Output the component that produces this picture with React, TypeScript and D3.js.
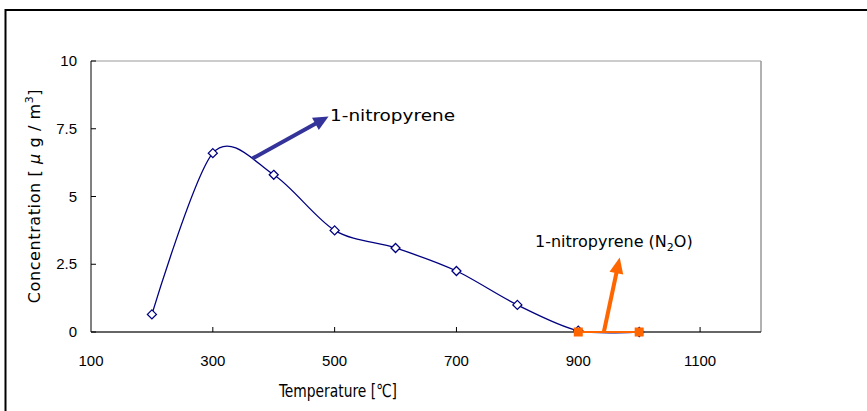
import React from "react";
import * as d3 from "d3";

// Temperature (°C) and 1-nitropyrene concentration (µg/m³)
const temps = [200, 300, 400, 500, 600, 700, 800, 900, 1000];
const nitropyrene = [0.65, 6.6, 5.8, 3.75, 3.1, 2.25, 1.0, 0.05, 0];
// 1-nitropyrene with N2O atmosphere
const tempsN2O = [900, 1000];
const nitropyreneN2O = [0, 0];

const xTicks = [100, 300, 500, 700, 900, 1100];
const xTickMarks = [300, 500, 700, 900, 1100];
const yTicks = [0, 2.5, 5, 7.5, 10];

const W = 867;
const H = 411;
const plot = { left: 91, right: 761, top: 61, bottom: 332 };

export default function App() {
  const x = d3.scaleLinear().domain([100, 1200]).range([plot.left, plot.right]);
  const y = d3.scaleLinear().domain([0, 10]).range([plot.bottom, plot.top]);

  const pts: [number, number][] = temps.map((t, i) => [x(t), y(nitropyrene[i])]);
  const ptsN2O: [number, number][] = tempsN2O.map((t, i) => [x(t), y(nitropyreneN2O[i])]);

  const smooth = d3.line().curve(d3.curveCardinal.tension(0.1))(pts) || "";
  const straight = d3.line()(ptsN2O) || "";

  const gothic = "'DejaVu Sans', sans-serif";
  const narrow = "'Liberation Sans Narrow', 'DejaVu Sans Condensed', sans-serif";
  const sans = "'Liberation Sans', Arial, sans-serif";

  // arrows pointing to labels (in data space)
  const blueArrow = { from: [365, 6.4], to: [490, 7.95] };
  const orangeArrow = { from: [942, 0], to: [968, 2.75] };

  const arrowHead = (x1: number, y1: number, x2: number, y2: number, len: number, half: number) => {
    const dx = x2 - x1;
    const dy = y2 - y1;
    const L = Math.hypot(dx, dy);
    const ux = dx / L;
    const uy = dy / L;
    const bx = x2 - ux * len;
    const by = y2 - uy * len;
    return `M${x2},${y2}L${bx - uy * half},${by + ux * half}L${bx + uy * half},${by - ux * half}Z`;
  };

  const ba = [x(blueArrow.from[0]), y(blueArrow.from[1]), x(blueArrow.to[0]), y(blueArrow.to[1])];
  const oa = [x(orangeArrow.from[0]), y(orangeArrow.from[1]), x(orangeArrow.to[0]), y(orangeArrow.to[1])];
  const shorten = (a: number[], k: number) => {
    const dx = a[2] - a[0];
    const dy = a[3] - a[1];
    const L = Math.hypot(dx, dy);
    return [a[2] - (dx / L) * k, a[3] - (dy / L) * k];
  };
  const bEnd = shorten(ba, 12);
  const oEnd = shorten(oa, 12);

  return (
    <svg
      width={W}
      height={H}
      style={{ position: "absolute", left: 0, top: 0, background: "#fff" }}
    >
      {/* outer frame */}
      <line x1={5} y1={10} x2={W} y2={10} stroke="#000" strokeWidth={2} />
      <line x1={5.5} y1={9} x2={5.5} y2={H} stroke="#000" strokeWidth={2} />

      {/* plot area border */}
      <line x1={plot.left} y1={plot.top} x2={plot.right} y2={plot.top} stroke="#999" strokeWidth={1} />
      <line x1={plot.right} y1={plot.top} x2={plot.right} y2={plot.bottom} stroke="#999" strokeWidth={1.5} />
      <line x1={plot.left} y1={plot.top} x2={plot.left} y2={plot.bottom} stroke="#000" strokeWidth={1} />
      <line x1={plot.left} y1={plot.bottom} x2={plot.right} y2={plot.bottom} stroke="#333" strokeWidth={1.5} />

      {/* y ticks */}
      {yTicks.map((v) => (
        <g key={v}>
          <line x1={plot.left} x2={plot.left + 5} y1={y(v)} y2={y(v)} stroke="#000" />
          <text
            x={77}
            y={y(v) + 5}
            textAnchor="end"
            fontFamily={sans}
            fontSize={15}
            fill="#000"
          >
            {v}
          </text>
        </g>
      ))}

      {/* x ticks */}
      {xTickMarks.map((v) => (
        <line key={v} x1={x(v)} x2={x(v)} y1={plot.bottom} y2={plot.bottom - 5} stroke="#000" />
      ))}
      {xTicks.map((v) => (
        <text
          key={v}
          x={x(v)}
          y={366}
          textAnchor="middle"
          fontFamily={sans}
          fontSize={15}
          fill="#000"
        >
          {v}
        </text>
      ))}

      {/* axis titles */}
      <text
        x={338}
        y={397}
        textAnchor="middle"
        fontFamily={narrow}
        fontSize={18}
        fill="#000"
        textLength={118}
        lengthAdjust="spacingAndGlyphs"
      >
        Temperature [℃]
      </text>
      <text
        transform="translate(40,196) rotate(-90)"
        textAnchor="middle"
        fontFamily={gothic}
        fontSize={16}
        fill="#000"
        letterSpacing={0.6}
      >
        Concentration [ <tspan fontStyle="italic">μ</tspan> g / m
        <tspan dy={-7} fontSize={11}>3</tspan>
        <tspan dy={7}>]</tspan>
      </text>

      {/* 1-nitropyrene series */}
      <path d={smooth} fill="none" stroke="#000080" strokeWidth={1.3} />
      {pts.map(([px, py], i) => (
        <path
          key={i}
          d={`M${px},${py - 4.5}L${px + 4.5},${py}L${px},${py + 4.5}L${px - 4.5},${py}Z`}
          fill="#fff"
          stroke="#000080"
          strokeWidth={1.3}
        />
      ))}

      {/* 1-nitropyrene (N2O) series */}
      <path d={straight} fill="none" stroke="#FF6600" strokeWidth={2.2} />
      {ptsN2O.map(([px, py], i) => (
        <rect key={i} x={px - 4.5} y={py - 4.5} width={9} height={9} fill="#FF6600" />
      ))}

      {/* annotation arrows */}
      <line x1={ba[0]} y1={ba[1]} x2={bEnd[0]} y2={bEnd[1]} stroke="#333399" strokeWidth={4} />
      <path d={arrowHead(ba[0], ba[1], ba[2], ba[3], 15, 7)} fill="#333399" />
      <line x1={oa[0]} y1={oa[1]} x2={oEnd[0]} y2={oEnd[1]} stroke="#FF6600" strokeWidth={4} />
      <path d={arrowHead(oa[0], oa[1], oa[2], oa[3], 16, 7)} fill="#FF6600" />

      {/* annotation labels */}
      <text
        x={330}
        y={121}
        fontFamily={gothic}
        fontSize={16}
        fill="#000"
        textLength={125}
        lengthAdjust="spacingAndGlyphs"
      >
        1-nitropyrene
      </text>
      <text x={535} y={247} fontFamily={gothic} fontSize={16} fill="#000">
        1-nitropyrene (N
        <tspan dy={4} fontSize={11}>2</tspan>
        <tspan dy={-4}>O)</tspan>
      </text>
    </svg>
  );
}
